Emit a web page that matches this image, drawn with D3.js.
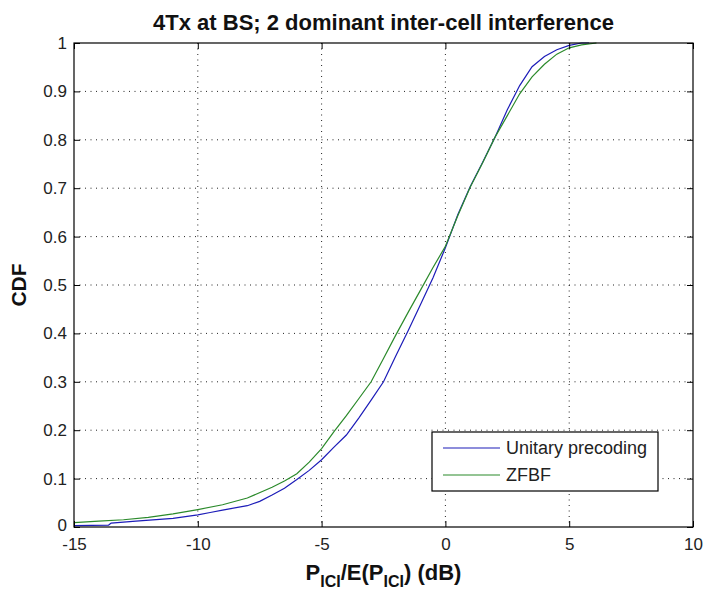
<!DOCTYPE html>
<html>
<head>
<meta charset="utf-8">
<script src="https://cdn.jsdelivr.net/npm/d3@7"></script>
<style>
  body { margin: 0; background: #ffffff; }
  svg { display: block; font-family: Arial, "Liberation Sans", sans-serif; }
</style>
</head>
<body>
<script>
'use strict';

// tick values
const xTicks = [-15, -10, -5, 0, 5, 10];
const yTicks = [0, 0.1, 0.2, 0.3, 0.4, 0.5, 0.6, 0.7, 0.8, 0.9, 1];
const yTickLabels = ["0", "0.1", "0.2", "0.3", "0.4", "0.5", "0.6", "0.7", "0.8", "0.9", "1"];

// series names (legend order)
const seriesNames = ["Unitary precoding", "ZFBF"];

// empirical CDF of Unitary precoding, [dB, cdf]
const unitaryPrecoding = [
  [-15, 0.003], [-13.6, 0.004], [-13.5, 0.008], [-12.5, 0.012], [-11, 0.018],
  [-10, 0.025], [-9.5, 0.030], [-9, 0.035], [-8, 0.044], [-7.5, 0.053],
  [-7, 0.066], [-6.5, 0.080], [-6, 0.098], [-5.5, 0.117], [-5, 0.139],
  [-4.5, 0.165], [-4, 0.190], [-3.5, 0.225], [-3, 0.262], [-2.5, 0.300],
  [-2, 0.354], [-1.5, 0.406], [-1, 0.460], [-0.5, 0.515], [0, 0.577],
  [0.5, 0.645], [1, 0.703], [1.5, 0.753], [2, 0.805], [2.5, 0.862],
  [3, 0.912], [3.5, 0.951], [4, 0.972], [4.5, 0.986], [5, 0.995],
  [5.5, 1.0], [5.8, 1.0]
];

// empirical CDF of ZFBF, [dB, cdf]
const zfbf = [
  [-15, 0.009], [-14, 0.012], [-13, 0.015], [-12, 0.020], [-11, 0.027],
  [-10, 0.036], [-9, 0.046], [-8, 0.060], [-7, 0.082], [-6.5, 0.095],
  [-6, 0.110], [-5.5, 0.134], [-5, 0.162], [-4.5, 0.197], [-4, 0.230],
  [-3.5, 0.265], [-3, 0.300], [-2.5, 0.348], [-2, 0.397], [-1.5, 0.444],
  [-1, 0.490], [-0.5, 0.536], [0, 0.580], [0.5, 0.643], [1, 0.702],
  [1.5, 0.752], [2, 0.805], [2.5, 0.850], [3, 0.895], [3.5, 0.930],
  [4, 0.956], [4.5, 0.977], [5, 0.990], [5.5, 0.996], [6.1, 1.0]
];

const seriesColors = ["#1c1cb8", "#2b8a2b"];

(function() {

  let width = 704;
  let height = 595;
  let margin = { top: 43, right: 11, bottom: 68, left: 74 };
  let plotW = width - margin.left - margin.right;
  let plotH = height - margin.top - margin.bottom;

  let svg = d3.select('body')
    .append('svg')
    .attr('width', width)
    .attr('height', height);

  let xScale = d3.scaleLinear()
    .domain([-15, 10])
    .range([0, plotW]);

  let yScale = d3.scaleLinear()
    .domain([0, 1])
    .range([plotH, 0]);

  let plot = svg.append('g')
    .attr('transform', 'translate(' + margin.left + ',' + margin.top + ')');

  // white axes background
  plot.append('rect')
    .attr('width', plotW)
    .attr('height', plotH)
    .attr('fill', '#ffffff');

  // dotted grid (matlab style)
  plot.append('g')
    .attr('class', 'grid')
    .selectAll('line')
    .data(xTicks.slice(1, -1))
    .enter()
    .append('line')
      .attr('x1', (d) => xScale(d))
      .attr('x2', (d) => xScale(d))
      .attr('y1', 0)
      .attr('y2', plotH);

  plot.append('g')
    .attr('class', 'grid')
    .selectAll('line')
    .data(yTicks.slice(1, -1))
    .enter()
    .append('line')
      .attr('x1', 0)
      .attr('x2', plotW)
      .attr('y1', (d) => yScale(d))
      .attr('y2', (d) => yScale(d));

  plot.selectAll('.grid line')
    .attr('stroke', '#222')
    .attr('stroke-width', 1)
    .attr('stroke-dasharray', '1,4.5');

  // curves
  let line = d3.line()
    .x((d) => xScale(d[0]))
    .y((d) => yScale(d[1]));

  [unitaryPrecoding, zfbf].forEach(function(series, i) {
    plot.append('path')
      .datum(series)
      .attr('fill', 'none')
      .attr('stroke', seriesColors[i])
      .attr('stroke-width', 1.2)
      .attr('d', line);
  });

  // inward ticks on all four sides
  let xAxis = d3.axisBottom(xScale)
    .tickValues(xTicks)
    .tickSizeInner(-6)
    .tickSizeOuter(0)
    .tickPadding(11)
    .tickFormat((d) => String(d)); // plain hyphen minus like matlab

  let yAxis = d3.axisLeft(yScale)
    .tickValues(yTicks)
    .tickSizeInner(-6)
    .tickSizeOuter(0)
    .tickPadding(7)
    .tickFormat((d, i) => yTickLabels[i]);

  let gx = plot.append('g')
    .attr('transform', 'translate(0,' + plotH + ')')
    .call(xAxis);

  let gy = plot.append('g')
    .call(yAxis);

  plot.append('g')
    .call(d3.axisTop(xScale).tickValues(xTicks).tickSizeInner(-6).tickSizeOuter(0).tickFormat(''));

  plot.append('g')
    .attr('transform', 'translate(' + plotW + ',0)')
    .call(d3.axisRight(yScale).tickValues(yTicks).tickSizeInner(-6).tickSizeOuter(0).tickFormat(''));

  plot.selectAll('.domain').remove();
  plot.selectAll('.tick line').attr('stroke', '#000');

  [gx, gy].forEach(function(g) {
    g.selectAll('text')
      .attr('fill', '#222')
      .style('font-size', '17px')
      .style('font-family', 'Arial, "Liberation Sans", sans-serif');
  });

  // lift the bottom "0" a touch so it clears the "-15"
  gy.selectAll('.tick text')
    .filter((d) => d === 0)
    .attr('dy', '0.2em');

  // axes box
  plot.append('rect')
    .attr('width', plotW)
    .attr('height', plotH)
    .attr('fill', 'none')
    .attr('stroke', '#000')
    .attr('stroke-width', 1.2);

  // legend
  let legend = plot.append('g')
    .attr('transform', 'translate(' + (432 - margin.left) + ',' + (432 - margin.top) + ')');

  legend.append('rect')
    .attr('width', 226)
    .attr('height', 59)
    .attr('fill', '#ffffff')
    .attr('stroke', '#000')
    .attr('stroke-width', 1.2);

  let rows = legend.selectAll('g.row')
    .data(seriesNames)
    .enter()
    .append('g')
      .attr('class', 'row')
      .attr('transform', (d, i) => 'translate(0,' + (16 + i * 27) + ')');

  rows.append('line')
    .attr('x1', 11)
    .attr('x2', 68)
    .attr('stroke', (d, i) => seriesColors[i])
    .attr('stroke-width', 1.2);

  rows.append('text')
    .attr('x', 74)
    .attr('dy', '0.36em')
    .style('font-size', '18px')
    .attr('fill', '#222')
    .text((d) => d);

  // title
  svg.append('text')
    .attr('x', margin.left + plotW / 2)
    .attr('y', 30)
    .style('text-anchor', 'middle')
    .style('font-size', '22px')
    .style('font-weight', 'bold')
    .attr('fill', '#111')
    .text('4Tx at BS; 2 dominant inter-cell interference');

  // x label with subscripts
  let xl = svg.append('text')
    .attr('x', margin.left + plotW / 2)
    .attr('y', 580)
    .style('text-anchor', 'middle')
    .style('font-size', '22px')
    .style('font-weight', 'bold')
    .attr('fill', '#111');
  xl.append('tspan').text('P');
  xl.append('tspan').attr('dy', 7).style('font-size', '16px').text('ICI');
  xl.append('tspan').attr('dy', -7).text('/E(P');
  xl.append('tspan').attr('dy', 7).style('font-size', '16px').text('ICI');
  xl.append('tspan').attr('dy', -7).text(') (dB)');

  // y label
  svg.append('text')
    .attr('transform', 'translate(26,' + (margin.top + plotH / 2) + ') rotate(-90)')
    .style('text-anchor', 'middle')
    .style('font-size', '21px')
    .style('font-weight', 'bold')
    .attr('fill', '#111')
    .text('CDF');

})();
</script>
</body>
</html>
